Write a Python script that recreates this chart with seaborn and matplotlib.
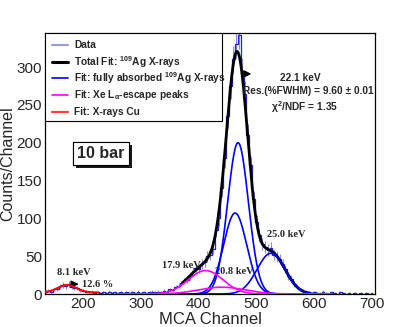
import numpy as np
import pandas as pd
import matplotlib
matplotlib.use("Agg")
import matplotlib.pyplot as plt
import matplotlib.patheffects as pe
from matplotlib.lines import Line2D
from matplotlib.patches import Rectangle
from matplotlib.ticker import MultipleLocator
import seaborn as sns

# ---------------- data ----------------
channels = list(range(135, 701, 5))
counts = [3, 4, 3, 6, 7, 10, 12, 10, 13, 9, 8, 8, 5, 4, 3, 2, 3, 1, 2,
          1, 2, 1, 3, 1, 2, 1, 2, 1, 2, 1, 2, 1, 3, 1, 2, 1, 2, 3, 2, 3,
          2, 4, 3, 6, 5, 9, 11, 14, 17, 19, 24, 30, 34, 33, 40, 42, 50, 52,
          60, 85, 100, 140, 180, 235, 275, 310, 330, 342, 295, 265, 210, 170,
          125, 95, 78, 66, 62, 58, 61, 52, 50, 46, 40, 33, 24, 20, 13, 9, 6,
          4, 3, 2, 1, 2, 1, 1, 3, 1, 0, 2, 1, 0, 2, 1, 0, 1, 0, 1, 0, 1, 0,
          1, 0, 1]
channels = channels[:len(counts)]

# fit parameters (Gaussian components)
ag_mean = [468, 463, 525]
ag_amp = [200, 107, 54]
ag_sigma = [18, 20, 24]
esc_mean = [412, 440]
esc_amp = [31, 9]
esc_sigma = [30, 40]
cu_mean = 172
cu_amp = 10
cu_sigma = 16
cu_bkg = 2

legend_labels = ["Data", r"Total Fit: $^{\mathbf{109}}$Ag X-rays",
                 r"Fit: fully absorbed $^{\mathbf{109}}$Ag X-rays",
                 r"Fit: Xe L$_{\mathbf{\alpha}}$-escape peaks", "Fit: X-rays Cu"]

# ---------------- style ----------------
sns.set_style("white")
plt.rcParams["font.family"] = ["Liberation Sans", "DejaVu Sans"]
plt.rcParams["mathtext.fontset"] = "custom"
plt.rcParams["mathtext.rm"] = "Liberation Sans:bold"
plt.rcParams["mathtext.it"] = "Liberation Sans:bold"
plt.rcParams["mathtext.bf"] = "Liberation Sans:bold"

W, H = 401, 327
fig = plt.figure(figsize=(W / 100, H / 100), dpi=100)
fig.patch.set_facecolor("white")
ax = fig.add_axes([45 / W, (H - 294) / H, 330 / W, 261 / H])


def gauss(x, a, m, s):
    return a * np.exp(-0.5 * ((x - m) / s) ** 2)


# data histogram
df = pd.DataFrame({"ch": channels, "n": counts})
err = np.sqrt(np.array(counts, dtype=float))
ax.errorbar(df["ch"], df["n"], yerr=err, fmt="none", ecolor="#8c8ce6",
            elinewidth=0.8, zorder=1)
sns.lineplot(data=df, x="ch", y="n", drawstyle="steps-mid", color="#2424c8",
             linewidth=0.9, ax=ax, zorder=2)

# fit curves
xf = np.linspace(260, 630, 800)
xt = np.linspace(372, 592, 500)
total = sum(gauss(xt, a, m, s) for a, m, s in zip(ag_amp, ag_mean, ag_sigma)) + \
    sum(gauss(xt, a, m, s) for a, m, s in zip(esc_amp, esc_mean, esc_sigma))
sns.lineplot(x=xt, y=total, color="black", linewidth=2.0, ax=ax, zorder=3)
for a, m, s in zip(ag_amp, ag_mean, ag_sigma):
    sns.lineplot(x=xf, y=gauss(xf, a, m, s), color="#0000ff", linewidth=1.2,
                 ax=ax, zorder=4)
for a, m, s in zip(esc_amp, esc_mean, esc_sigma):
    sns.lineplot(x=xf, y=gauss(xf, a, m, s), color="#ff00ff", linewidth=1.2,
                 ax=ax, zorder=5)
xc = np.linspace(134, 226, 300)
sns.lineplot(x=xc, y=cu_bkg + gauss(xc, cu_amp, cu_mean, cu_sigma),
             color="#ff0000", linewidth=1.5, ax=ax, zorder=5)

# axes
ax.set_xlim(134, 705)
ax.set_ylim(0, 345)
ax.xaxis.set_major_locator(MultipleLocator(100))
ax.xaxis.set_minor_locator(MultipleLocator(20))
ax.yaxis.set_major_locator(MultipleLocator(50))
ax.yaxis.set_minor_locator(MultipleLocator(10))
ax.tick_params(which="both", direction="in", top=False, right=False,
               color="black", width=0.8)
ax.tick_params(which="major", length=7, labelsize=11, pad=2)
ax.tick_params(which="minor", length=3.5)
for sp in ax.spines.values():
    sp.set_color("black")
    sp.set_linewidth(0.9)
ax.set_xlabel("MCA Channel", fontsize=12, labelpad=1)
ax.set_ylabel("Counts/Channel", fontsize=11.5)
ax.yaxis.set_label_coords((15 - 45) / 330, 0.5)

# annotations
tb = dict(fontsize=7.3, fontweight="bold", ha="center", va="center")
ax.text(575, 285, "22.1 keV", **tb)
ax.text(590, 268, "Res.(%FWHM) = 9.60 \u00b1 0.01", **tb)
ax.text(583, 247, r"$\chi^{2}$/NDF = 1.35", **tb)
ax.annotate("", xy=(496, 291), xytext=(478, 291),
            arrowprops=dict(arrowstyle="-|>,head_length=0.4,head_width=0.2",
                            color="black", lw=1.2))

sf = dict(family=["Liberation Serif"], fontsize=7.5, fontweight="bold",
          va="center")
ax.text(183, 28, "8.1 keV", ha="center", **sf)
ax.annotate("", xy=(197, 13), xytext=(181, 13),
            arrowprops=dict(arrowstyle="-|>,head_length=0.4,head_width=0.2",
                            color="black", lw=1.2))
ax.text(198, 13, "12.6 %", ha="left", **sf)
ax.text(370, 38, "17.9 keV", ha="center", **sf)
ax.text(461, 30, "20.8 keV", ha="center", **sf)
ax.text(552, 79, "25.0 keV", ha="center", **sf)

t = ax.text(231, 186, "10 bar", fontsize=11.5, fontweight="bold", ha="center",
            va="center",
            bbox=dict(boxstyle="square,pad=0.25", fc="white", ec="black",
                      lw=0.8))
t.get_bbox_patch().set_path_effects(
    [pe.withSimplePatchShadow(offset=(2, -2), shadow_rgbFace="black",
                              alpha=0.9), pe.Normal()])

# legend (ROOT-style box)
def ax_x(px):
    return (px - 45) / 330


def ax_y(py):
    return (294 - py) / 261


ax.add_patch(Rectangle((0, ax_y(121)), ax_x(222), 1 - ax_y(121),
                       transform=ax.transAxes, fc="white", ec="black", lw=0.8,
                       zorder=10))
leg_colors = ["#9a9ae8", "black", "#0000ff", "#ff00ff", "#ff4040"]
leg_widths = [1.5, 2.2, 1.2, 1.2, 1.6]
rows = [45, 62, 78, 95, 112]
for lab, c, lw, py in zip(legend_labels, leg_colors, leg_widths, rows):
    ax.add_line(Line2D([ax_x(52), ax_x(68)], [ax_y(py), ax_y(py)],
                       transform=ax.transAxes, color=c, lw=lw, zorder=11))
    ax.text(ax_x(74), ax_y(py), lab, transform=ax.transAxes, fontsize=7.3,
            fontweight="bold", va="center", ha="left", zorder=11)

fig.savefig("out.png", dpi=100)
